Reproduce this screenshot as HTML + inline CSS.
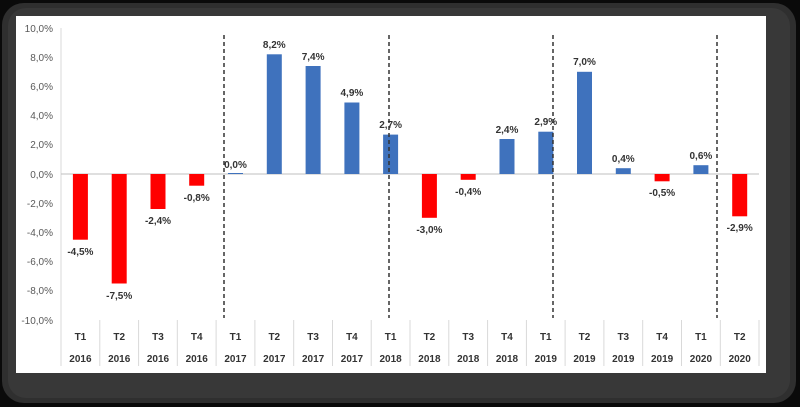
<!DOCTYPE html>
<html><head><meta charset="utf-8"><style>
html,body{margin:0;padding:0;background:#000;width:800px;height:407px;overflow:hidden}
svg{display:block}
text{font-family:"Liberation Sans",sans-serif}
</style></head><body>
<svg width="800" height="407" viewBox="0 0 800 407" xmlns="http://www.w3.org/2000/svg">
<rect x="0" y="0" width="800" height="407" fill="#0a0a0a"/>
<rect x="2" y="3" width="794" height="400" rx="22" fill="#2f2f2f"/>
<rect x="8" y="8" width="782" height="390" rx="18" fill="#383838"/>
<rect x="16" y="16" width="750" height="357" fill="#fff"/>
<g font-size="10" fill="#595959" text-anchor="end">
<text x="53" y="32">10,0%</text><text x="53" y="61">8,0%</text><text x="53" y="90">6,0%</text>
<text x="53" y="119">4,0%</text><text x="53" y="148">2,0%</text><text x="53" y="178">0,0%</text>
<text x="53" y="207">-2,0%</text><text x="53" y="236">-4,0%</text><text x="53" y="265">-6,0%</text>
<text x="53" y="294">-8,0%</text><text x="53" y="324">-10,0%</text>
</g>
<line x1="61" y1="28" x2="61" y2="366" stroke="#d9d9d9"/>
<line x1="61" y1="174" x2="759" y2="174" stroke="#bfbfbf"/>
<g stroke="#d9d9d9">
<line x1="99.8" y1="320" x2="99.8" y2="366"/><line x1="138.6" y1="320" x2="138.6" y2="366"/>
<line x1="177.3" y1="320" x2="177.3" y2="366"/><line x1="216.1" y1="320" x2="216.1" y2="366"/>
<line x1="254.9" y1="320" x2="254.9" y2="366"/><line x1="293.7" y1="320" x2="293.7" y2="366"/>
<line x1="332.5" y1="320" x2="332.5" y2="366"/><line x1="371.2" y1="320" x2="371.2" y2="366"/>
<line x1="410" y1="320" x2="410" y2="366"/><line x1="448.8" y1="320" x2="448.8" y2="366"/>
<line x1="487.6" y1="320" x2="487.6" y2="366"/><line x1="526.4" y1="320" x2="526.4" y2="366"/>
<line x1="565.1" y1="320" x2="565.1" y2="366"/><line x1="603.9" y1="320" x2="603.9" y2="366"/>
<line x1="642.7" y1="320" x2="642.7" y2="366"/><line x1="681.5" y1="320" x2="681.5" y2="366"/>
<line x1="720.3" y1="320" x2="720.3" y2="366"/><line x1="759" y1="320" x2="759" y2="366"/>
</g>
<g fill="#ff0000">
<rect x="72.9" y="174" width="15" height="65.7"/>
<rect x="111.7" y="174" width="15" height="109.5"/>
<rect x="150.5" y="174" width="15" height="35"/>
<rect x="189.2" y="174" width="15" height="11.7"/>
<rect x="421.9" y="174" width="15" height="43.8"/>
<rect x="460.7" y="174" width="15" height="5.8"/>
<rect x="654.6" y="174" width="15" height="7.3"/>
<rect x="732.2" y="174" width="15" height="42.3"/>
</g>
<g fill="#3f72bd">
<rect x="228" y="173" width="15" height="1"/>
<rect x="266.8" y="54.3" width="15" height="119.7"/>
<rect x="305.6" y="66" width="15" height="108"/>
<rect x="344.4" y="102.5" width="15" height="71.5"/>
<rect x="383.1" y="134.6" width="15" height="39.4"/>
<rect x="499.5" y="139" width="15" height="35"/>
<rect x="538.3" y="131.7" width="15" height="42.3"/>
<rect x="577" y="71.8" width="15" height="102.2"/>
<rect x="615.8" y="168.2" width="15" height="5.8"/>
<rect x="693.4" y="165.2" width="15" height="8.8"/>
</g>
<g stroke="#333" stroke-width="1.5" stroke-dasharray="4,3">
<line x1="224" y1="35" x2="224" y2="318"/><line x1="389" y1="35" x2="389" y2="318"/>
<line x1="553" y1="35" x2="553" y2="318"/><line x1="717" y1="35" x2="717" y2="318"/>
</g>
<g font-size="10" font-weight="bold" fill="#333" text-anchor="middle">
<text x="80.4" y="255">-4,5%</text>
<text x="119.2" y="299">-7,5%</text>
<text x="158" y="224">-2,4%</text>
<text x="196.7" y="201">-0,8%</text>
<text x="235.5" y="168">0,0%</text>
<text x="274.3" y="48">8,2%</text>
<text x="313.1" y="60">7,4%</text>
<text x="351.9" y="96">4,9%</text>
<text x="390.6" y="128">2,7%</text>
<text x="429.4" y="233">-3,0%</text>
<text x="468.2" y="195">-0,4%</text>
<text x="507" y="133">2,4%</text>
<text x="545.8" y="125">2,9%</text>
<text x="584.5" y="65">7,0%</text>
<text x="623.3" y="162">0,4%</text>
<text x="662.1" y="196">-0,5%</text>
<text x="700.9" y="159">0,6%</text>
<text x="739.7" y="231">-2,9%</text>
</g>
<g font-size="10" font-weight="bold" fill="#333" text-anchor="middle">
<text x="80.4" y="340">T1</text><text x="119.2" y="340">T2</text><text x="158" y="340">T3</text><text x="196.7" y="340">T4</text>
<text x="235.5" y="340">T1</text><text x="274.3" y="340">T2</text><text x="313.1" y="340">T3</text><text x="351.9" y="340">T4</text>
<text x="390.6" y="340">T1</text><text x="429.4" y="340">T2</text><text x="468.2" y="340">T3</text><text x="507" y="340">T4</text>
<text x="545.8" y="340">T1</text><text x="584.5" y="340">T2</text><text x="623.3" y="340">T3</text><text x="662.1" y="340">T4</text>
<text x="700.9" y="340">T1</text><text x="739.7" y="340">T2</text>
<text x="80.4" y="362">2016</text><text x="119.2" y="362">2016</text><text x="158" y="362">2016</text><text x="196.7" y="362">2016</text>
<text x="235.5" y="362">2017</text><text x="274.3" y="362">2017</text><text x="313.1" y="362">2017</text><text x="351.9" y="362">2017</text>
<text x="390.6" y="362">2018</text><text x="429.4" y="362">2018</text><text x="468.2" y="362">2018</text><text x="507" y="362">2018</text>
<text x="545.8" y="362">2019</text><text x="584.5" y="362">2019</text><text x="623.3" y="362">2019</text><text x="662.1" y="362">2019</text>
<text x="700.9" y="362">2020</text><text x="739.7" y="362">2020</text>
</g>
</svg>
</body></html>
